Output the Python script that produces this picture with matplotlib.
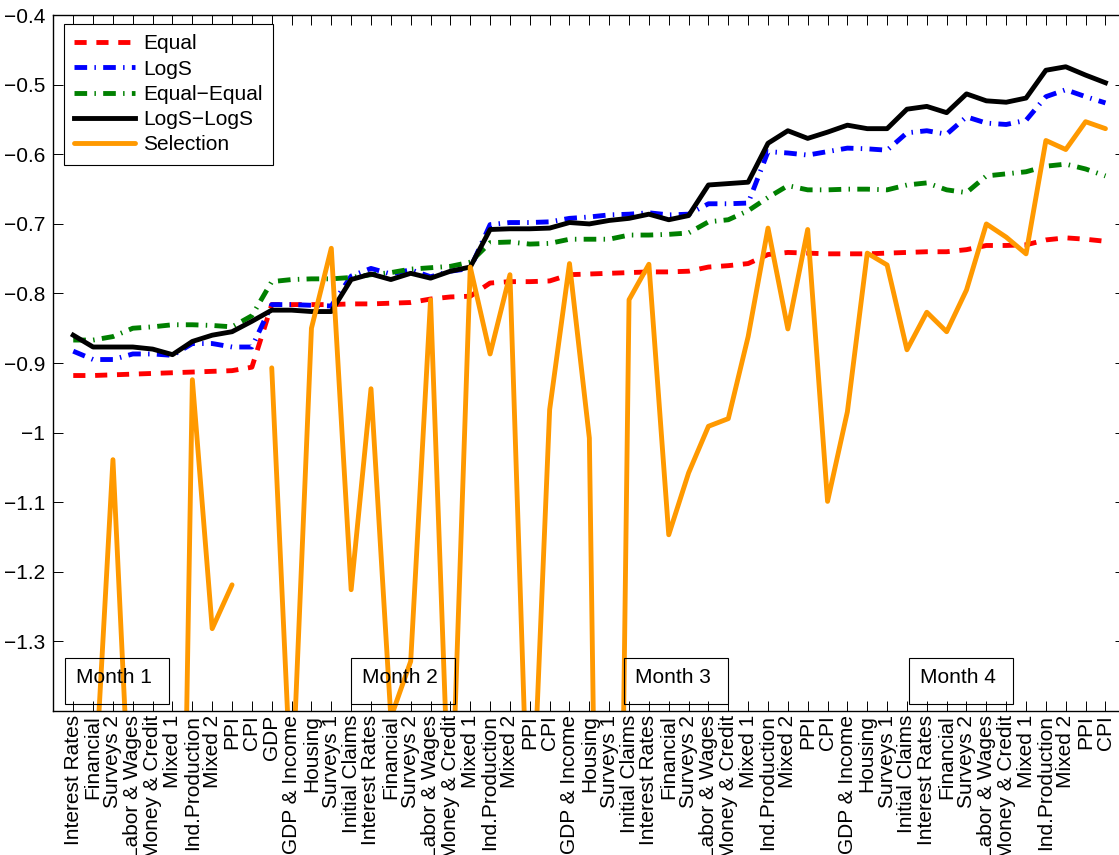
import numpy as np
import matplotlib
matplotlib.use("Agg")
import matplotlib.pyplot as plt
from matplotlib.patches import Rectangle
from matplotlib.ticker import FixedLocator, FuncFormatter

plt.rcParams['font.family'] = ['Liberation Sans', 'DejaVu Sans']

# ---------------- data ----------------
labels = [
    "Interest Rates", "Financial", "Surveys 2", "Labor & Wages", "Money & Credit",
    "Mixed 1", "Ind.Production", "Mixed 2", "PPI", "CPI",
    "GDP", "GDP & Income", "Housing", "Surveys 1", "Initial Claims",
    "Interest Rates", "Financial", "Surveys 2", "Labor & Wages", "Money & Credit",
    "Mixed 1", "Ind.Production", "Mixed 2", "PPI", "CPI",
    "GDP & Income", "Housing", "Surveys 1", "Initial Claims",
    "Interest Rates", "Financial", "Surveys 2", "Labor & Wages", "Money & Credit",
    "Mixed 1", "Ind.Production", "Mixed 2", "PPI", "CPI",
    "GDP & Income", "Housing", "Surveys 1", "Initial Claims",
    "Interest Rates", "Financial", "Surveys 2", "Labor & Wages", "Money & Credit",
    "Mixed 1", "Ind.Production", "Mixed 2", "PPI", "CPI",
]

equal = [-0.918, -0.918, -0.917, -0.916, -0.915, -0.914, -0.913, -0.912, -0.911, -0.906,
         -0.816, -0.816, -0.816, -0.816, -0.815, -0.815, -0.814, -0.813, -0.808, -0.805,
         -0.804, -0.785, -0.783, -0.783, -0.782, -0.773, -0.772, -0.771, -0.770, -0.769,
         -0.769, -0.768, -0.762, -0.760, -0.757, -0.744, -0.741, -0.742, -0.743, -0.743,
         -0.743, -0.742, -0.741, -0.740, -0.740, -0.737, -0.731, -0.731, -0.730, -0.723,
         -0.720, -0.722, -0.725]

logs = [-0.883, -0.895, -0.895, -0.887, -0.887, -0.889, -0.872, -0.872, -0.877, -0.877,
        -0.816, -0.816, -0.817, -0.818, -0.775, -0.764, -0.772, -0.766, -0.776, -0.768,
        -0.764, -0.701, -0.698, -0.698, -0.697, -0.692, -0.690, -0.687, -0.686, -0.684,
        -0.687, -0.686, -0.671, -0.671, -0.670, -0.596, -0.598, -0.601, -0.596, -0.591,
        -0.592, -0.594, -0.569, -0.566, -0.571, -0.546, -0.555, -0.557, -0.551, -0.517,
        -0.507, -0.517, -0.526]

equal_equal = [-0.867, -0.867, -0.862, -0.850, -0.848, -0.845, -0.845, -0.846, -0.848, -0.832,
               -0.783, -0.780, -0.779, -0.779, -0.777, -0.773, -0.770, -0.765, -0.763, -0.761,
               -0.755, -0.727, -0.726, -0.729, -0.728, -0.722, -0.722, -0.722, -0.716, -0.716,
               -0.715, -0.713, -0.697, -0.694, -0.681, -0.662, -0.645, -0.651, -0.651, -0.650,
               -0.650, -0.651, -0.644, -0.641, -0.651, -0.655, -0.631, -0.628, -0.625, -0.617,
               -0.614, -0.621, -0.631]

logs_logs = [-0.860, -0.877, -0.877, -0.877, -0.880, -0.888, -0.869, -0.860, -0.855, -0.840,
             -0.824, -0.824, -0.826, -0.826, -0.780, -0.772, -0.780, -0.771, -0.778, -0.768,
             -0.762, -0.708, -0.707, -0.707, -0.706, -0.698, -0.700, -0.695, -0.692, -0.686,
             -0.694, -0.688, -0.644, -0.642, -0.640, -0.584, -0.566, -0.577, -0.568, -0.558,
             -0.563, -0.563, -0.535, -0.531, -0.540, -0.513, -0.523, -0.525, -0.519, -0.479,
             -0.474, -0.486, -0.497]

selection = [np.nan, -1.555, -1.039, -1.640, -2.000, -2.600, -0.924, -1.282, -1.219, np.nan,
             -0.907, -1.530, -0.850, -0.735, -1.226, -0.937, -1.410, -1.329, -0.809, -1.600,
             -0.762, -0.887, -0.773, -1.650, -0.967, -0.757, -1.008, -3.000, -0.809, -0.758,
             -1.147, -1.058, -0.991, -0.980, -0.862, -0.706, -0.851, -0.708, -1.099, -0.970,
             -0.742, -0.759, -0.881, -0.827, -0.855, -0.795, -0.700, -0.719, -0.743, -0.580,
             -0.593, -0.553, -0.563]

month_names = ["Month 1", "Month 2", "Month 3", "Month 4"]
month_box_x = [0.57, 14.98, 28.74, 43.10]

y_ticks = [-1.3, -1.2, -1.1, -1.0, -0.9, -0.8, -0.7, -0.6, -0.5, -0.4]

# ---------------- figure ----------------
fig = plt.figure(figsize=(11.19, 8.55), dpi=100)
ax = fig.add_axes([0.04772, 0.16877, 0.95791, 0.81333])

x = np.arange(1, len(labels) + 1)
lw = 3.5
ax.plot(x, equal, color='#ff0000', lw=lw, dashes=(2.5, 2.0), label='Equal',
        dash_capstyle='butt', solid_joinstyle='round')
ax.plot(x, logs, color='#0000ff', lw=lw, dashes=(2.6, 1.5, 0.3, 1.5), label='LogS',
        dash_capstyle='butt')
ax.plot(x, equal_equal, color='#008000', lw=lw, dashes=(2.6, 1.5, 0.3, 1.5),
        label='Equal\u2212Equal', dash_capstyle='butt')
ax.plot(x, logs_logs, color='black', lw=lw, label='LogS\u2212LogS',
        solid_joinstyle='round')
ax.plot(x, selection, color='#ff9900', lw=lw, label='Selection',
        solid_joinstyle='round', solid_capstyle='round')

ax.set_xlim(0, len(labels) + 1)
ax.set_ylim(-1.4, -0.4)

ax.set_xticks(x)
ax.set_xticklabels(labels, rotation=90, ha='center', va='top', fontsize=15)
ax.yaxis.set_major_locator(FixedLocator(y_ticks))
ax.yaxis.set_major_formatter(FuncFormatter(lambda v, p: f"{v:g}".replace('-', '\u2212')))
ax.tick_params(axis='both', direction='in', length=7.5, width=0.7,
               top=True, right=True, labelsize=15)
ax.tick_params(axis='x', pad=3)
ax.tick_params(axis='y', pad=6)
for s in ax.spines.values():
    s.set_linewidth(1.0)

# month boxes
for name, bx in zip(month_names, month_box_x):
    ax.add_patch(Rectangle((bx, -1.391), 5.24, 0.067, fill=False, ec='black',
                           lw=0.8, zorder=6))
    ax.text(bx + 0.57, -1.36, name, fontsize=15, ha='left', va='baseline', zorder=7)

leg = ax.legend(loc='upper left', bbox_to_anchor=(0.0099, 0.9875), borderaxespad=0,
                fontsize=15, frameon=True, fancybox=False, edgecolor='black',
                framealpha=1, handlelength=2.9, handletextpad=0.4,
                labelspacing=0.3, borderpad=0.5)
leg.get_frame().set_linewidth(0.8)

fig.savefig('out.png', dpi=100)
